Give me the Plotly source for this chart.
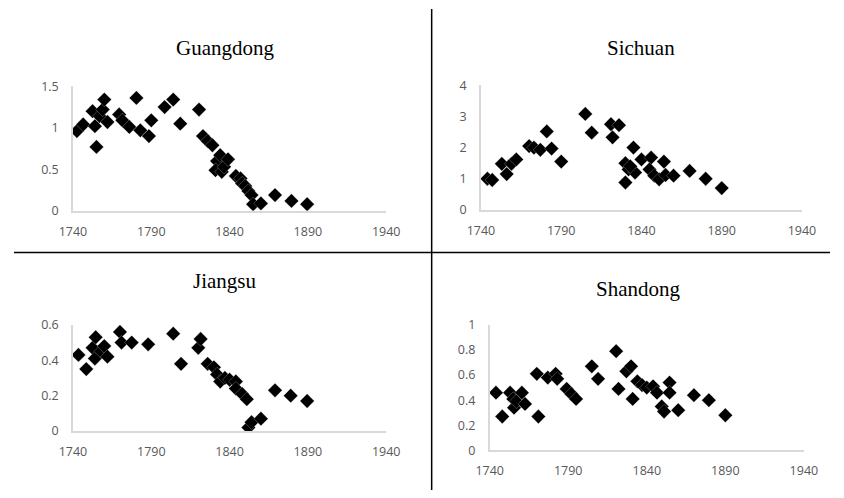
import plotly.graph_objects as go

# ---------------- data ----------------
provinces = ["Guangdong", "Sichuan", "Jiangsu", "Shandong"]

gd_years = [1742.5, 1746.5, 1752.5, 1754, 1755, 1757, 1759, 1760, 1762, 1769.5, 1771.5, 1776,
            1780.5, 1783, 1788.5, 1790, 1798.5, 1804, 1808.5, 1820.5, 1823, 1826, 1829, 1832,
            1831, 1834, 1835, 1836.5, 1839, 1844, 1847, 1848, 1850, 1852, 1854, 1855, 1860,
            1869, 1879.5, 1889.5]
gd_values = [0.96, 1.04, 1.2, 1.02, 0.77, 1.14, 1.22, 1.34, 1.07, 1.16, 1.09, 1.01,
             1.36, 0.97, 0.9, 1.09, 1.25, 1.34, 1.05, 1.22, 0.9, 0.84, 0.79, 0.6,
             0.49, 0.67, 0.47, 0.53, 0.62, 0.42, 0.39, 0.33, 0.3, 0.24, 0.19, 0.08, 0.09,
             0.19, 0.12, 0.08]

sc_years = [1744, 1747, 1753, 1756, 1759, 1762, 1770, 1773, 1777, 1781, 1784, 1790, 1805, 1809,
            1821, 1826, 1822, 1835, 1830, 1832, 1830, 1836, 1833, 1840, 1846, 1845, 1848, 1851,
            1854, 1855, 1860, 1870, 1880, 1890]
sc_values = [1.0, 0.96, 1.48, 1.15, 1.48, 1.62, 2.05, 2.0, 1.93, 2.52, 1.97, 1.55, 3.08, 2.48,
             2.75, 2.72, 2.33, 2.0, 1.5, 1.3, 0.88, 1.2, 1.4, 1.62, 1.68, 1.3, 1.1, 0.98,
             1.55, 1.12, 1.1, 1.25, 1.0, 0.7]

js_years = [1743.5, 1748.5, 1752.5, 1754.5, 1754, 1758, 1760, 1762, 1770, 1771, 1777.5, 1788,
            1804, 1809, 1820, 1821.5, 1826, 1830, 1832, 1834, 1837, 1840, 1844, 1844, 1848,
            1851, 1852, 1854, 1860, 1869, 1879, 1889.5]
js_values = [0.43, 0.35, 0.47, 0.53, 0.41, 0.45, 0.48, 0.42, 0.56, 0.5, 0.5, 0.49,
             0.55, 0.38, 0.47, 0.52, 0.38, 0.36, 0.32, 0.28, 0.3, 0.29, 0.28, 0.24, 0.21,
             0.18, 0.02, 0.05, 0.07, 0.23, 0.2, 0.17]

sd_years = [1744, 1748, 1753, 1755, 1755.5, 1757, 1760.5, 1762.5, 1770, 1771, 1777, 1782, 1783,
            1789, 1792, 1795, 1805, 1809, 1820.5, 1822, 1827, 1830, 1831, 1834, 1837, 1840,
            1844, 1846.5, 1849.5, 1851, 1854.5, 1854.5, 1860, 1870, 1879.5, 1890]
sd_values = [0.46, 0.27, 0.46, 0.41, 0.34, 0.39, 0.46, 0.37, 0.61, 0.27, 0.58, 0.61, 0.57,
             0.49, 0.45, 0.41, 0.67, 0.57, 0.79, 0.49, 0.63, 0.67, 0.41, 0.55, 0.52, 0.5,
             0.51, 0.46, 0.35, 0.31, 0.54, 0.46, 0.32, 0.44, 0.4, 0.28]

x_ticks = [1740, 1790, 1840, 1890, 1940]
gd_yticks = [0, 0.5, 1, 1.5]
gd_ytext = ["0", "0.5", "1", "1.5"]
sc_yticks = [0, 1, 2, 3, 4]
sc_ytext = ["0", "1", "2", "3", "4"]
js_yticks = [0, 0.2, 0.4, 0.6]
js_ytext = ["0", "0.2", "0.4", "0.6"]
sd_yticks = [0, 0.2, 0.4, 0.6, 0.8, 1]
sd_ytext = ["0", "0.2", "0.4", "0.6", "0.8", "1"]

# ---------------- figure ----------------
W, H = 844, 498
panels = [
    dict(x=gd_years, y=gd_values, yt=gd_yticks, ytt=gd_ytext, xd=(61, 385), yd=(209, 80),
         yr=(0, 1.5), title=(218, 40)),
    dict(x=sc_years, y=sc_values, yt=sc_yticks, ytt=sc_ytext, xd=(483, 815), yd=(208, 79),
         yr=(0, 4), title=(648, 40)),
    dict(x=js_years, y=js_values, yt=js_yticks, ytt=js_ytext, xd=(61, 385), yd=(437, 327),
         yr=(0, 0.6), title=(218, 282)),
    dict(x=sd_years, y=sd_values, yt=sd_yticks, ytt=sd_ytext, xd=(492, 817), yd=(457, 327),
         yr=(0, 1), title=(646, 290)),
]

fig = go.Figure()
tickfont = dict(family="Open Sans, Liberation Sans, sans-serif", size=12.5, color="#595959")
annotations = []
for i, (name, p) in enumerate(zip(provinces, panels)):
    n = "" if i == 0 else str(i + 1)
    fig.add_trace(go.Scatter(
        x=p["x"], y=p["y"], mode="markers", name=name,
        xaxis="x" + n, yaxis="y" + n,
        marker=dict(symbol="diamond", size=11, color="black",
                    line=dict(color="rgba(255,255,255,0.6)", width=0.4)),
        showlegend=False, hoverinfo="x+y"))
    xdom = [p["xd"][0] / W, p["xd"][1] / W]
    ydom = [1 - p["yd"][0] / H, 1 - p["yd"][1] / H]
    fig.layout["xaxis" + n] = dict(
        domain=xdom, range=[1740, 1940], anchor="y" + n, tickvals=x_ticks,
        showgrid=False, zeroline=False, showline=True, linecolor="#d9d9d9", linewidth=1.5,
        ticks="", tickfont=tickfont, ticklabelstandoff=8)
    fig.layout["yaxis" + n] = dict(
        domain=ydom, range=list(p["yr"]), anchor="x" + n, tickvals=p["yt"], ticktext=p["ytt"],
        showgrid=False, zeroline=False, showline=True, linecolor="#d9d9d9", linewidth=1.5,
        ticks="", tickfont=tickfont, ticklabelstandoff=10)
    annotations.append(dict(
        text=name, x=p["title"][0] / W, y=1 - p["title"][1] / H, xref="paper", yref="paper",
        xanchor="center", yanchor="middle", showarrow=False,
        font=dict(family="Liberation Serif, Times New Roman, serif", size=21, color="black")))

fig.update_layout(
    width=W, height=H, margin=dict(l=0, r=0, t=0, b=0),
    paper_bgcolor="white", plot_bgcolor="white",
    annotations=annotations,
    shapes=[
        dict(type="line", xref="paper", yref="paper", x0=432 / W, x1=432 / W, y0=0, y1=1,
             line=dict(color="black", width=1.5)),
        dict(type="line", xref="paper", yref="paper", x0=0, x1=1, y0=1 - 252 / H, y1=1 - 252 / H,
             line=dict(color="black", width=1.5)),
    ],
)

fig.write_html(
    "out.html",
    config={"displayModeBar": False},
    post_script="document.body.style.margin='0';document.body.style.overflow='hidden';",
)
